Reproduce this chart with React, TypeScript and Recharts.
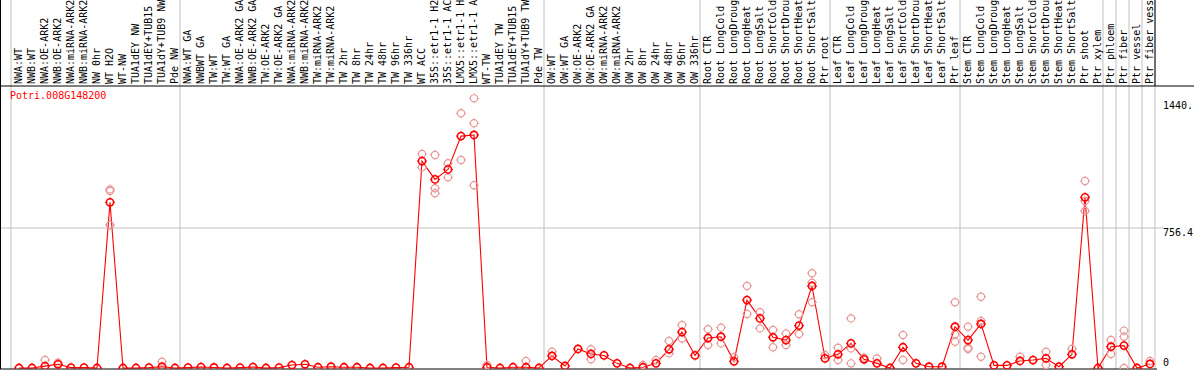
import { ComposedChart, Line, Scatter, XAxis, YAxis, ReferenceLine } from "recharts"

// sample names, left to right
const samples = [
  "NWA:WT", "NWB:WT", "NWA:OE-ARK2", "NWB:OE-ARK2", "NWA:miRNA-ARK2", "NWB:miRNA-ARK2", "NW 0hr",
  "WT H2O", "WT-NW", "TUA1dEY NW", "TUA1dEY+TUB15 NW", "TUA1dY+TUB9 NW", "Pde NW",
  "NWA:WT GA", "NWBWT GA", "TW:WT", "TW:WT GA", "NWA:OE-ARK2 GA", "NWB:OE-ARK2 GA", "TW:OE-ARK2",
  "TW:OE-ARK2 GA", "NWA:miRNA-ARK2 GA", "NWB:miRNA-ARK2 GA", "TW:miRNA-ARK2", "TW:miRNA-ARK2 GA",
  "TW 2hr", "TW 8hr", "TW 24hr", "TW 48hr", "TW 96hr", "TW 336hr", "WT ACC",
  "35S::etr1-1 H2O", "35S::etr1-1 ACC", "LMX5::etr1-1 H2O", "LMX5::etr1-1 ACC",
  "WT-TW", "TUA1dEY TW", "TUA1dEY+TUB15 TW", "TUA1dY+TUB9 TW", "Pde TW",
  "OW:WT", "OW:WT GA", "OW:OE-ARK2", "OW:OE-ARK2 GA", "OW:miRNA-ARK2", "OW:miRNA-ARK2 GA",
  "OW 2hr", "OW 8hr", "OW 24hr", "OW 48hr", "OW 96hr", "OW 336hr",
  "Root CTR", "Root LongCold", "Root LongDrought", "Root LongHeat", "Root LongSalt",
  "Root ShortCold", "Root ShortDrought", "Root ShortHeat", "Root ShortSalt", "Ptr root",
  "Leaf CTR", "Leaf LongCold", "Leaf LongDrought", "Leaf LongHeat", "Leaf LongSalt",
  "Leaf ShortCold", "Leaf ShortDrought", "Leaf ShortHeat", "Leaf ShortSalt", "Ptr leaf",
  "Stem CTR", "Stem LongCold", "Stem LongDrought", "Stem LongHeat", "Stem LongSalt",
  "Stem ShortCold", "Stem ShortDrought", "Stem ShortHeat", "Stem ShortSalt", "Ptr shoot",
  "Ptr xylem", "Ptr phloem", "Ptr fiber", "Ptr vessel", "Ptr fiber vessel",
]

// mean expression per sample
const means = [
  0, 0, 10, 20, 2, 2, 0, 895, 0, 0, 2, 7, 0,
  2, 5, 3, 0, 2, 5, 0, 2, 16, 20, 4, 7, 4, 4, 0, 0, 2, 4,
  1118, 1019, 1073, 1253, 1259, 4, 0, 4, 4, 0,
  65, 11, 103, 76, 68, 25, 0, 4, 25, 101, 194, 68,
  162, 169, 36, 367, 268, 166, 151, 229, 443, 52,
  74, 133, 47, 25, 0, 112, 25, 7, 7, 223,
  151, 238, 14, 14, 38, 43, 52, 7, 74, 922,
  0, 115, 121, 0, 22,
]

// individual replicates: [sample number, value]
const replicates: [number, number][] = [
  [3, 43], [4, 28], [8, 965], [8, 956], [8, 773], [12, 34],
  [32, 1156], [32, 1084], [33, 1151], [33, 971], [33, 944], [34, 1106], [34, 1030],
  [35, 1376], [35, 1124], [36, 1457], [36, 1322], [36, 987], [37, 16], [40, 38],
  [42, 88], [45, 101], [45, 47], [49, 16], [50, 43], [51, 146], [51, 79], [52, 232], [52, 159],
  [54, 209], [54, 124], [55, 218], [55, 133], [56, 58], [57, 443], [57, 292], [58, 301], [58, 214],
  [59, 205], [59, 112], [60, 187], [60, 124], [61, 290], [61, 184], [62, 512], [62, 461], [62, 355],
  [63, 70], [64, 110], [64, 43], [65, 268], [65, 106], [65, 25], [66, 56], [67, 52],
  [69, 178], [69, 43], [73, 355], [73, 182], [73, 142],
  [74, 223], [74, 110], [74, 103], [75, 385], [75, 254], [75, 61], [78, 61], [80, 88], [80, 16],
  [82, 103], [83, 1010], [83, 902], [83, 848], [85, 151], [85, 76], [86, 202], [86, 169], [86, 0], [88, 38],
]

// group separators sit just after these sample numbers
const groupEnds = [0, 13, 41, 53, 63, 73, 84, 85, 86, 87, 88]

const yTicks = [0, 756.4, 1440]
const yTickLabels = ["0", "756.4", "1440."]

const W = 1194
const H = 370
const STEP = 13
const PLOT_W = 1157
const PX_PER_UNIT = 140 / 756.4
const X_MIN = 1 - 19 / STEP
const X_MAX = X_MIN + PLOT_W / STEP
const Y_MIN = -1 / PX_PER_UNIT
const Y_MAX = 368 / PX_PER_UNIT
const Y_BOX = (368 - 86) / PX_PER_UNIT
const GAP = 5 / STEP
const LABEL_BASE = 84

const RED = "#ff0000"
const PINK = "#e89898"
const GRID = "#c0c0c0"
const MONO = "'DejaVu Sans Mono', monospace"

const data = samples.map((name, i) => ({ idx: i + 1, name, mean: means[i] }))
const repData = replicates.map(([idx, v]) => ({ idx, v }))

const Ring = ({ cx, cy, color, w }: any) => {
  if (cx == null || cy == null) return null
  return (
    <g>
      <circle cx={cx} cy={cy} r={3.6} fill="none" stroke={color} strokeWidth={w} />
      <line x1={cx} y1={cy - 5} x2={cx} y2={cy - 4} stroke={color} />
      <line x1={cx} y1={cy + 4} x2={cx} y2={cy + 5} stroke={color} />
      <line x1={cx - 5} y1={cy} x2={cx - 4} y2={cy} stroke={color} />
      <line x1={cx + 4} y1={cy} x2={cx + 5} y2={cy} stroke={color} />
    </g>
  )
}

// sample names stand upright in the box above the plot
const renderSampleTick = (p: any) => (
  <text
    key={`s${p.index}`}
    transform={`translate(${p.x + 2.5},${LABEL_BASE}) rotate(-90)`}
    fontSize={10}
    fontFamily={MONO}
    fill="#000"
  >
    {samples[p.payload.value - 1]}
  </text>
)

const renderValueTick = (p: any) => {
  const i = yTicks.indexOf(p.payload.value)
  return (
    <text
      key={`v${p.index}`}
      x={p.x}
      y={p.y}
      dy={p.payload.value === 0 ? -2.5 : 8}
      fontSize={10}
      fontFamily={MONO}
      fill="#000"
      textAnchor="start"
    >
      {yTickLabels[i]}
    </text>
  )
}

export default function App() {
  return (
    <div style={{ position: "absolute", left: 0, top: 0, width: W, height: H, background: "#fff", overflow: "hidden" }}>
      <ComposedChart width={W} height={H} data={data} margin={{ top: 0, right: 0, bottom: 0, left: 0 }}>
        <XAxis
          xAxisId="b"
          dataKey="idx"
          type="number"
          domain={[X_MIN, X_MAX]}
          allowDataOverflow
          height={1}
          ticks={data.map((d) => d.idx)}
          interval={0}
          tick={renderSampleTick}
          tickLine={false}
          axisLine={{ stroke: "#000" }}
        />
        <YAxis
          orientation="right"
          width={W - PLOT_W}
          type="number"
          domain={[Y_MIN, Y_MAX]}
          allowDataOverflow
          ticks={yTicks}
          interval={0}
          tick={renderValueTick}
          tickLine={false}
          tickSize={0}
          tickMargin={6}
          axisLine={false}
        />

        {groupEnds.map((k) => (
          <ReferenceLine key={`g${k}`} xAxisId="b" x={k + GAP} stroke={GRID} ifOverflow="visible" />
        ))}
        <ReferenceLine
          xAxisId="b"
          segment={[{ x: X_MIN, y: 756.4 }, { x: X_MIN + 1163 / STEP, y: 756.4 }]}
          stroke={GRID}
          ifOverflow="visible"
        />
        <ReferenceLine xAxisId="b" x={X_MIN} stroke="#000" strokeWidth={2} ifOverflow="visible" />
        <ReferenceLine
          xAxisId="b"
          segment={[{ x: X_MIN, y: Y_BOX }, { x: X_MIN + W / STEP, y: Y_BOX }]}
          stroke="#000"
          ifOverflow="visible"
        />
        <ReferenceLine
          xAxisId="b"
          segment={[{ x: 88 + GAP, y: Y_BOX }, { x: 88 + GAP, y: Y_MAX }]}
          stroke="#000"
          ifOverflow="visible"
        />

        <Scatter
          xAxisId="b"
          data={repData}
          dataKey="v"
          isAnimationActive={false}
          shape={(p: any) => <Ring cx={p.cx} cy={p.cy} color={PINK} w={1.2} />}
        />
        <Line
          xAxisId="b"
          type="linear"
          dataKey="mean"
          stroke={RED}
          strokeWidth={1.1}
          isAnimationActive={false}
          dot={(p: any) => <Ring key={`d${p.index}`} cx={p.cx} cy={p.cy} color={RED} w={1.6} />}
          activeDot={false}
        />
      </ComposedChart>
      <div
        style={{
          position: "absolute",
          left: 10,
          top: 91,
          fontFamily: MONO,
          fontSize: 10,
          lineHeight: "10px",
          color: RED,
        }}
      >
        Potri.008G148200
      </div>
    </div>
  )
}
